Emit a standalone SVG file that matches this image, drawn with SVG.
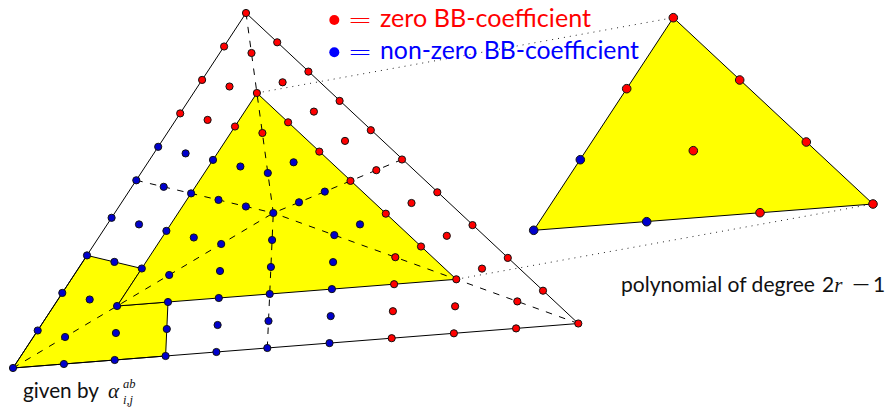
<svg xmlns="http://www.w3.org/2000/svg" width="885" height="407" viewBox="0 0 885 407">
<style>
.edge{fill:none;stroke:#000;stroke-width:1}
.fill{fill:#ff0;stroke:#000;stroke-width:1;stroke-linejoin:round}
.dash{fill:none;stroke:#000;stroke-width:1;stroke-dasharray:6.5 7.5}
.dot{fill:none;stroke:#222;stroke-width:1;stroke-dasharray:1 5}
circle{stroke:#111;stroke-width:1}
.small circle{r:3.6px}
.large circle{r:4.3px}
.red{fill:#f00}
.blue{fill:#00c}
.t{font-family:"Lato","Liberation Sans",sans-serif}
.m{font-family:"Liberation Serif",serif;font-style:italic}
.leg{font-size:25px}
.cap{font-size:21px;fill:#111}
</style>
<rect width="885" height="407" fill="#fff"/>
<g id="fills">
<polygon class="fill" points="13,368 87,255.4 141.8,268.5 117.1,306 168,302 165.6,356"/>
<polygon class="fill" points="117.1,306 256.9,93 456.3,279.3"/>
<polygon class="fill" points="673.3,17.7 873,204 533.7,230.3"/>
</g>
<g id="connectors">
<polygon class="edge" points="13,368 246,13 578.3,323.5"/>
<path class="dash" d="M13,368L273.3,213M267.3,348L273.3,213M578.3,323.5L273.3,213M402,159.5L273.3,213M246,13L273.3,213M136.3,180.3L273.3,213"/>
<path class="dot" d="M256.9,93L673.3,17.7M456.3,279.3L873,204"/>
</g>
<g id="domain-points-blue" class="small">
<g class="blue">
<circle cx="273.3" cy="213"/>
<circle cx="221.2" cy="244"/><circle cx="220" cy="271"/><circle cx="218.8" cy="298"/><circle cx="217.6" cy="325"/><circle cx="216.4" cy="352"/>
<circle cx="169.2" cy="275"/><circle cx="168" cy="302"/><circle cx="166.8" cy="329"/><circle cx="165.6" cy="356"/>
<circle cx="117.1" cy="306"/><circle cx="115.9" cy="333"/><circle cx="114.7" cy="360"/>
<circle cx="65.1" cy="337"/><circle cx="63.9" cy="364"/>
<circle cx="13" cy="368"/>
<circle cx="272.1" cy="240"/><circle cx="333.1" cy="262.1"/>
<circle cx="270.9" cy="267"/><circle cx="331.9" cy="289.1"/>
<circle cx="269.7" cy="294"/><circle cx="330.7" cy="316.1"/>
<circle cx="268.5" cy="321"/><circle cx="329.5" cy="343.1"/>
<circle cx="267.3" cy="348"/>
<circle cx="334.3" cy="235.1"/><circle cx="360" cy="224.4"/>
<circle cx="299" cy="202.3"/><circle cx="293.6" cy="162.3"/><circle cx="324.8" cy="191.6"/>
<circle cx="267.8" cy="173"/><circle cx="240.4" cy="166.5"/><circle cx="213" cy="159.9"/><circle cx="185.6" cy="153.4"/><circle cx="158.2" cy="146.8"/>
<circle cx="245.9" cy="206.5"/><circle cx="193.8" cy="237.5"/><circle cx="141.8" cy="268.5"/><circle cx="89.7" cy="299.5"/><circle cx="37.7" cy="330.5"/>
<circle cx="218.5" cy="199.9"/><circle cx="166.4" cy="230.9"/><circle cx="114.4" cy="261.9"/><circle cx="62.3" cy="292.9"/>
<circle cx="191.1" cy="193.4"/><circle cx="139" cy="224.4"/><circle cx="87" cy="255.4"/>
<circle cx="163.7" cy="186.8"/><circle cx="111.6" cy="217.8"/>
<circle cx="136.3" cy="180.3"/>
</g>
</g>
<g id="domain-points-red" class="small">
<g class="red">
<circle cx="394.1" cy="284.2"/><circle cx="455.1" cy="306.3"/><circle cx="516.1" cy="328.4"/>
<circle cx="392.9" cy="311.2"/><circle cx="453.9" cy="333.3"/>
<circle cx="391.7" cy="338.2"/>
<circle cx="385.8" cy="213.7"/><circle cx="411.5" cy="203"/><circle cx="437.3" cy="192.3"/>
<circle cx="395.3" cy="257.2"/><circle cx="421" cy="246.5"/><circle cx="446.8" cy="235.8"/><circle cx="472.5" cy="225.1"/>
<circle cx="456.3" cy="279.3"/><circle cx="482" cy="268.6"/><circle cx="507.8" cy="257.9"/>
<circle cx="517.3" cy="301.4"/><circle cx="543" cy="290.7"/>
<circle cx="578.3" cy="323.5"/>
<circle cx="288.1" cy="122.3"/><circle cx="282.6" cy="82.3"/><circle cx="277.2" cy="42.3"/>
<circle cx="319.3" cy="151.6"/><circle cx="313.9" cy="111.6"/><circle cx="308.4" cy="71.6"/>
<circle cx="350.5" cy="180.9"/><circle cx="345" cy="140.9"/><circle cx="339.6" cy="100.9"/>
<circle cx="376.3" cy="170.2"/><circle cx="370.8" cy="130.2"/>
<circle cx="402" cy="159.5"/>
<circle cx="262.4" cy="133"/><circle cx="235" cy="126.5"/><circle cx="207.6" cy="119.9"/><circle cx="180.2" cy="113.4"/>
<circle cx="256.9" cy="93"/><circle cx="229.5" cy="86.5"/><circle cx="202.1" cy="79.9"/>
<circle cx="251.5" cy="53"/><circle cx="224.1" cy="46.5"/>
<circle cx="246" cy="13"/>
</g>
</g>
<g id="polynomial-points" class="large">
<g class="red">
<circle cx="673.3" cy="17.7"/><circle cx="626.7" cy="88.7"/><circle cx="739.7" cy="80"/><circle cx="806.3" cy="142"/><circle cx="873" cy="204"/><circle cx="760" cy="212.7"/><circle cx="693.3" cy="150.7"/>
</g>
<g class="blue">
<circle cx="580.3" cy="159.7"/><circle cx="646.7" cy="221.7"/><circle cx="533.7" cy="230.3"/>
</g>
</g>
<g id="legend">
<circle cx="334.3" cy="20" r="5" style="fill:#f00;stroke:none"/>
<circle cx="334.3" cy="52.3" r="5" style="fill:#00f;stroke:none"/>
<text class="t leg" x="347" y="29" fill="#f00" textLength="26" lengthAdjust="spacingAndGlyphs" font-weight="300">=</text>
<text class="t leg" x="380" y="27" fill="#f00" textLength="211" lengthAdjust="spacingAndGlyphs">zero BB-coefficient</text>
<text class="t leg" x="347" y="61" fill="#00f" textLength="26" lengthAdjust="spacingAndGlyphs" font-weight="300">=</text>
<text class="t leg" x="380" y="59" fill="#00f" textLength="259" lengthAdjust="spacingAndGlyphs">non-zero BB-coefficient</text>
</g>
<g id="labels">
<text class="t cap" x="621" y="292" textLength="194" lengthAdjust="spacingAndGlyphs">polynomial of degree</text>
<text class="t cap" x="822" y="292">2<tspan class="m">r</tspan></text>
<text class="t cap" x="851" y="292" textLength="20" lengthAdjust="spacingAndGlyphs">−</text>
<text class="t cap" x="873" y="292">1</text>
<text class="t cap" x="23" y="398" textLength="76" lengthAdjust="spacingAndGlyphs">given by</text>
<text class="m cap" x="108" y="398">α</text>
<text class="m" x="123" y="388" font-size="12.5" fill="#111">ab</text>
<text class="m" x="123" y="404" font-size="12.5" fill="#111">i,j</text>
</g>
</svg>
